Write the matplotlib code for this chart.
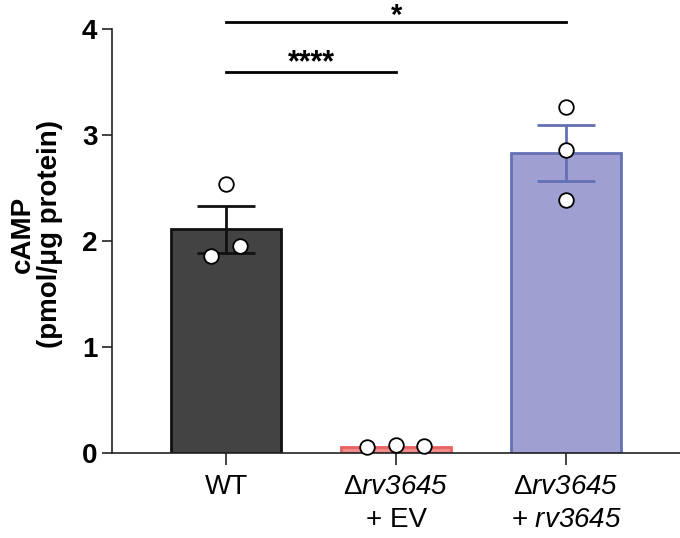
import matplotlib
matplotlib.use("Agg")
import matplotlib.pyplot as plt

plt.rcParams['font.family'] = ['Liberation Sans', 'DejaVu Sans']
plt.rcParams['mathtext.fontset'] = 'custom'
plt.rcParams['mathtext.rm'] = 'Liberation Sans'
plt.rcParams['mathtext.sf'] = 'Liberation Sans:italic'

groups = ['WT', '$\\Delta\\mathsf{rv3645}$\n+ EV', '$\\Delta\\mathsf{rv3645}$\n+ $\\mathsf{rv3645}$']
means = [2.11, 0.06, 2.83]
sems = [0.22, 0.01, 0.26]
points = [[2.54, 1.86, 1.95], [0.06, 0.075, 0.066], [3.26, 2.86, 2.39]]
yticks = [0, 1, 2, 3, 4]

fills = ['#434343', '#f28b8b', '#a09fd2']
edges = ['#111111', '#e86060', '#6470b4']
jitter = [[0, -0.09, 0.08], [-0.17, 0, 0.165], [0, 0, 0]]

fig = plt.figure(figsize=(6.8, 5.38), dpi=100)
ax = fig.add_axes([112/680, 1 - 453/538, 568/680, 424/538])

xs = range(len(groups))
for i in xs:
    ax.bar(i, means[i], width=0.65, color=fills[i], edgecolor=edges[i], linewidth=2, zorder=2)
    if i != 1:
        ax.errorbar(i, means[i], yerr=sems[i], color=edges[i], capsize=21, capthick=2,
                    elinewidth=2, zorder=3)
    ax.plot([i + j for j in jitter[i]], points[i], 'o', ms=10.5, mfc='white', mec='black',
            mew=1.3, zorder=4, clip_on=False)

ax.set_xlim(-0.671, 2.67)
ax.set_ylim(0, 4)
ax.set_yticks(yticks)
ax.set_yticklabels([str(t) for t in yticks], fontsize=20, fontweight='bold')
ax.set_xticks(list(xs))
ax.set_xticklabels(groups, fontsize=20, linespacing=1.34)
ax.tick_params(axis='y', length=7.5, width=1.2, color='#222222', pad=3)
ax.tick_params(axis='x', length=8.5, width=1.2, color='#222222', pad=6.5)
for s in ['top', 'right']:
    ax.spines[s].set_visible(False)
for s in ['left', 'bottom']:
    ax.spines[s].set_linewidth(1.2)
    ax.spines[s].set_color('#222222')

ax.set_ylabel('cAMP\n(pmol/\u03bcg protein)', fontsize=20, fontweight='bold', linespacing=1.08)
ax.yaxis.set_label_coords(-0.086, 0.516)

# significance bars
ax.plot([0, 2], [4.07, 4.07], color='black', lw=2, clip_on=False)
ax.text(1, 4.05, '*', ha='center', va='baseline', fontsize=21, fontweight='bold')
ax.plot([0, 1], [3.59, 3.59], color='black', lw=2, clip_on=False)
ax.text(0.5, 3.604, '****', ha='center', va='baseline', fontsize=22, fontweight='bold')

fig.savefig('out.png', dpi=100)
